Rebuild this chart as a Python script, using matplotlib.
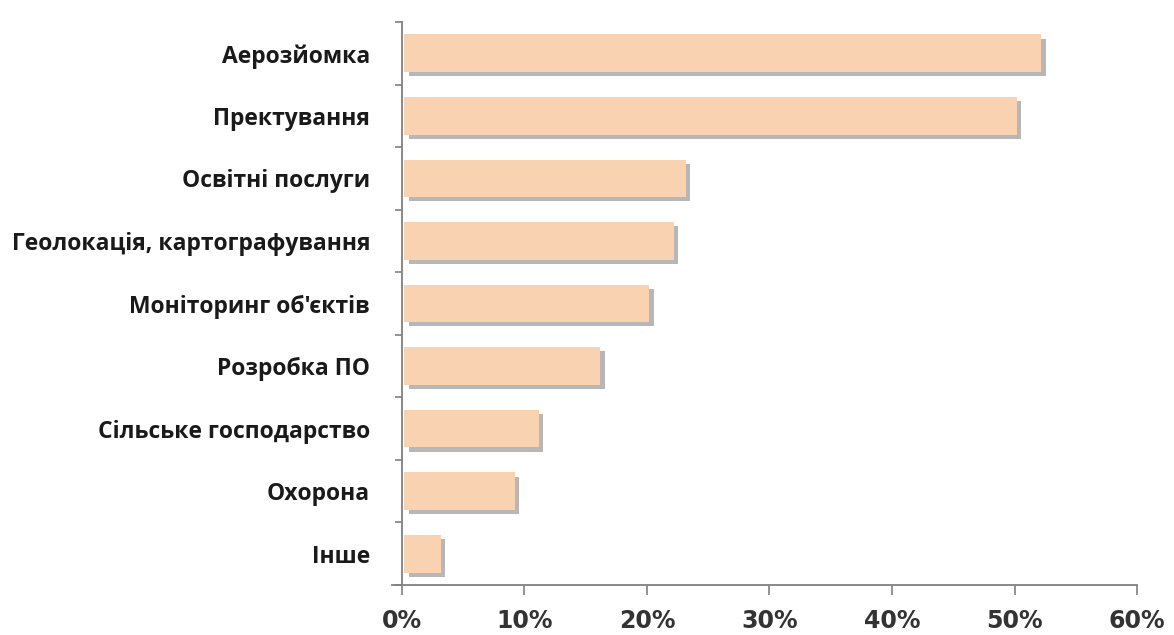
import matplotlib
matplotlib.use("Agg")
import matplotlib.pyplot as plt
import matplotlib.patheffects as pe
import numpy as np

categories = ["Аерозйомка", "Пректування", "Освітні послуги",
              "Геолокація, картографування", "Моніторинг об'єктів",
              "Розробка ПО", "Сільське господарство", "Охорона", "Інше"]
values = [52, 50, 23, 22, 20, 16, 11, 9, 3]
xticks = [0, 10, 20, 30, 40, 50, 60]
xtick_labels = ["0%", "10%", "20%", "30%", "40%", "50%", "60%"]

fig = plt.figure(figsize=(11.74, 6.35), dpi=100)
ax = fig.add_axes([0.3424, 0.0787, 0.6261, 0.8867])

n = len(categories)
y = np.arange(n)[::-1]
bars = ax.barh(y, values, height=0.6, left=0.2, color="#F9D2B1", edgecolor="none", zorder=3)
for b in bars:
    b.set_path_effects([pe.SimplePatchShadow(offset=(3, -3), shadow_rgbFace="#707070", alpha=0.5), pe.Normal()])

ax.set_xlim(0, 60)
ax.set_ylim(-0.5, n - 0.5)
ax.set_xticks(xticks)
ax.set_xticklabels(xtick_labels, fontsize=17, fontweight="bold", color="#333333", family="DejaVu Sans")
ax.set_yticks(y)
ax.set_yticklabels(categories, fontsize=16.5, fontweight="bold", color="#1a1a1a", family="Open Sans")
ax.tick_params(axis="y", length=0, pad=23)
ax.set_yticks(np.arange(-0.5, n, 1.0), minor=True)
ax.tick_params(axis="y", which="minor", length=5, color="#808080", width=1.2)
ax.tick_params(axis="x", length=7, color="#808080", width=1.2, pad=10)

for s in ["top", "right"]:
    ax.spines[s].set_visible(False)
for s in ["left", "bottom"]:
    ax.spines[s].set_color("#808080")
    ax.spines[s].set_linewidth(1.3)
ax.spines["bottom"].set_bounds(-0.8, 60)

fig.savefig("out.png", dpi=100, facecolor="white")
